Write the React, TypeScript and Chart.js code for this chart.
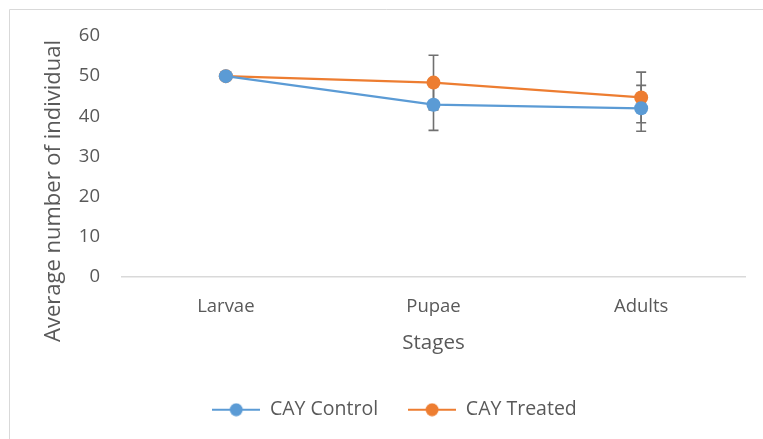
import React, { useEffect, useRef } from "react";
import { Chart, registerables } from "chart.js";

Chart.register(...registerables);

const categories = ["Larvae", "Pupae", "Adults"];
const controlValues = [50, 42.9, 42.0];
const controlErrors = [0, 6.4, 5.7];
const treatedValues = [50, 48.4, 44.7];
const treatedErrors = [0, 6.8, 6.3];
const yTicks = [0, 10, 20, 30, 40, 50, 60];

const BLUE = "#5b9bd5";
const ORANGE = "#ed7d31";
const TEXT = "#595959";
const FONT = "'Open Sans'";

function makeLegendIcon(color: string) {
  const c = document.createElement("canvas");
  c.width = 48;
  c.height = 14;
  const ctx = c.getContext("2d")!;
  ctx.strokeStyle = color;
  ctx.lineWidth = 2.2;
  ctx.beginPath();
  ctx.moveTo(0, 7);
  ctx.lineTo(48, 7);
  ctx.stroke();
  ctx.fillStyle = color;
  ctx.beginPath();
  ctx.arc(24, 7, 6.5, 0, Math.PI * 2);
  ctx.fill();
  return c;
}

const errorBarPlugin = {
  id: "errorBars",
  beforeDatasetsDraw(chart: any) {
    const { ctx, scales } = chart;
    const y = scales.y;
    const errs = [controlErrors, treatedErrors];
    ctx.save();
    ctx.strokeStyle = "#707070";
    ctx.lineWidth = 1.6;
    chart.data.datasets.forEach((ds: any, di: number) => {
      const meta = chart.getDatasetMeta(di);
      meta.data.forEach((pt: any, i: number) => {
        const e = errs[di][i];
        if (!e) return;
        const v = ds.data[i];
        const yTop = y.getPixelForValue(v + e);
        const yBot = y.getPixelForValue(v - e);
        const x = pt.x;
        ctx.beginPath();
        ctx.moveTo(x, yTop);
        ctx.lineTo(x, yBot);
        ctx.moveTo(x - 5, yTop);
        ctx.lineTo(x + 5, yTop);
        ctx.moveTo(x - 5, yBot);
        ctx.lineTo(x + 5, yBot);
        ctx.stroke();
      });
    });
    ctx.restore();
  },
};

const frameAndTitlePlugin = {
  id: "frameAndTitle",
  afterDraw(chart: any) {
    const { ctx } = chart;
    ctx.save();
    ctx.strokeStyle = "#d9d9d9";
    ctx.lineWidth = 1;
    ctx.beginPath();
    ctx.moveTo(9.5, 439);
    ctx.lineTo(9.5, 9.5);
    ctx.lineTo(763, 9.5);
    ctx.stroke();
    ctx.fillStyle = TEXT;
    ctx.font = `22px ${FONT}`;
    ctx.textAlign = "center";
    ctx.textBaseline = "middle";
    ctx.translate(54, 191);
    ctx.rotate(-Math.PI / 2);
    ctx.fillText("Average number of individual", 0, 0);
    ctx.restore();
  },
};

export default function App() {
  const ref = useRef<HTMLCanvasElement | null>(null);
  useEffect(() => {
    if (!ref.current) return;
    const icons = [makeLegendIcon(BLUE), makeLegendIcon(ORANGE)];
    const chart = new Chart(ref.current, {
      type: "line",
      data: {
        labels: categories,
        datasets: [
          {
            label: "CAY Control",
            data: controlValues,
            borderColor: BLUE,
            backgroundColor: BLUE,
            borderWidth: 2.2,
            pointRadius: 7,
            pointBackgroundColor: BLUE,
            pointBorderWidth: 0,
            tension: 0,
          },
          {
            label: "CAY Treated",
            data: treatedValues,
            borderColor: ORANGE,
            backgroundColor: ORANGE,
            borderWidth: 2.2,
            pointRadius: 7,
            pointBackgroundColor: ORANGE,
            pointBorderWidth: 0,
            tension: 0,
          },
        ],
      },
      options: {
        animation: false,
        responsive: true,
        maintainAspectRatio: false,
        layout: { padding: { left: 44, right: 18, top: 36, bottom: 9.5 } },
        plugins: {
          tooltip: { enabled: false },
          legend: {
            position: "bottom",
            labels: {
              usePointStyle: true,
              pointStyleWidth: 48,
              padding: 30,
              color: TEXT,
              font: { family: FONT, size: 19.5 },
              generateLabels: (c: any) =>
                c.data.datasets.map((ds: any, i: number) => ({
                  text: ds.label,
                  fillStyle: ds.borderColor,
                  strokeStyle: ds.borderColor,
                  lineWidth: 0,
                  pointStyle: icons[i],
                  datasetIndex: i,
                  fontColor: TEXT,
                })),
            },
          },
        },
        scales: {
          x: {
            type: "category",
            offset: true,
            grid: { display: false, drawTicks: false },
            border: { display: true, color: "#d9d9d9", width: 1.5 },
            ticks: {
              color: TEXT,
              font: { family: FONT, size: 18.5 },
              padding: 19,
              maxRotation: 0,
            },
            title: {
              display: true,
              text: "Stages",
              color: TEXT,
              font: { family: FONT, size: 20.5 },
              padding: { top: 0, bottom: 14.7 },
            },
            afterFit: (s: any) => {
              s.height = 93;
            },
          },
          y: {
            min: 0,
            max: 60,
            afterBuildTicks: (s: any) => {
              s.ticks = yTicks.map((v) => ({ value: v }));
            },
            grid: { display: false, drawTicks: false },
            border: { display: false },
            ticks: {
              color: TEXT,
              font: { family: FONT, size: 18.5 },
              padding: 22,
            },
            afterFit: (s: any) => {
              s.width = 78;
            },
          },
        },
      },
      plugins: [errorBarPlugin, frameAndTitlePlugin],
    });
    return () => chart.destroy();
  }, []);
  return (
    <div style={{ position: "fixed", left: 0, top: 0, width: 763, height: 439, background: "#fff" }}>
      <canvas ref={ref} />
    </div>
  );
}
